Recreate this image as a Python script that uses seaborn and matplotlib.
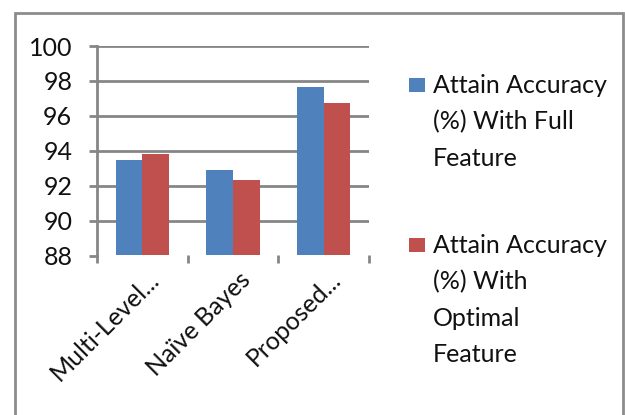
import matplotlib
matplotlib.use("Agg")
import matplotlib.pyplot as plt
import seaborn as sns
import pandas as pd
from matplotlib.patches import Rectangle
from matplotlib.transforms import ScaledTranslation

methods = ["Multi-Level...", "Naïve Bayes", "Proposed..."]
full_feature = [93.45, 92.9, 97.65]
optimal_feature = [93.8, 92.3, 96.75]
series_names = ["Attain Accuracy (%) With Full Feature",
                "Attain Accuracy (%) With Optimal Feature"]
legend_lines = [["Attain Accuracy", "(%) With Full", "Feature"],
                ["Attain Accuracy", "(%) With", "Optimal", "Feature"]]
yticks = [88, 90, 92, 94, 96, 98, 100]
colors = ["#4F81BD", "#C0504D"]
grid_color = "#868686"
text_color = "#111111"
W, H = 625, 415

df = pd.DataFrame({
    "method": methods * 2,
    "accuracy": full_feature + optimal_feature,
    "series": [series_names[0]] * 3 + [series_names[1]] * 3,
})

sns.set_theme(style="white")
plt.rcParams["font.family"] = ["Lato", "DejaVu Sans"]

fig = plt.figure(figsize=(W / 100, H / 100), dpi=100)
ax = fig.add_axes([97 / W, 1 - 255.5 / H, 272 / W, 209.5 / H])

sns.barplot(data=df, x="method", y="accuracy", hue="series",
            palette=colors, width=0.585, saturation=1, ax=ax,
            edgecolor="none", linewidth=0, legend=False)

ax.set_ylim(88, 100)
ax.set_xlim(-0.5, 2.5)
ax.set_yticks(yticks)
ax.set_yticklabels([str(t) for t in yticks], fontsize=18, color=text_color)
ax.set_xlabel("")
ax.set_ylabel("")
ax.grid(False)
for t in yticks:
    ax.axhline(t, color=grid_color, lw=2, zorder=0)
ax.set_axisbelow(True)

for side in ["top", "right", "bottom"]:
    ax.spines[side].set_visible(False)
ax.spines["left"].set_color(grid_color)
ax.spines["left"].set_linewidth(2)

ax.tick_params(axis="y", which="major", length=5.8, width=2, color=grid_color,
               pad=12, left=True)

# category boundary ticks on the x axis, names centred between them
ax.set_xticks([-0.5, 0.5, 1.5, 2.5], minor=False)
ax.set_xticklabels([])
ax.set_xticks([0, 1, 2], minor=True)
ax.set_xticklabels(methods, minor=True, rotation=45, ha="right",
                   va="baseline", rotation_mode="anchor", fontsize=18,
                   color=text_color)
ax.tick_params(axis="x", which="major", length=5.8, width=2, color=grid_color,
               bottom=True)
ax.tick_params(axis="x", which="minor", length=0, pad=18.5)
shift = ScaledTranslation(18.5 / 100, 0, fig.dpi_scale_trans)
for lab in ax.get_xticklabels(minor=True):
    lab.set_transform(lab.get_transform() + shift)

# legend: colour swatch beside the first line of each wrapped label
px = fig.transFigure
entry_tops = [93.3, 253.3]
for color, lines, base in zip(colors, legend_lines, entry_tops):
    fig.add_artist(Rectangle((409 / W, 1 - (base - 1) / H), 16 / W, 14 / H,
                             transform=px, facecolor=color, edgecolor="none"))
    for k, line in enumerate(lines):
        fig.text(433 / W, 1 - (base + 36.2 * k) / H, line, fontsize=18,
                 color=text_color, ha="left", va="baseline")

fig.add_artist(Rectangle((15 / W, -0.1), 608 / W, 1.1 - 13 / H,
                         transform=px, fill=False,
                         edgecolor="#8c8c8c", linewidth=2, clip_on=False))

fig.savefig("out.png", dpi=100)
